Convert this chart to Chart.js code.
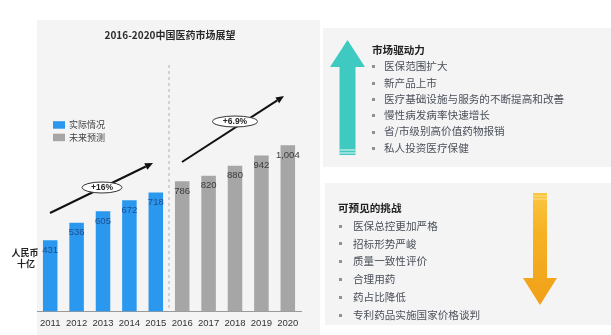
<!DOCTYPE html>
<html>
<head>
<meta charset="utf-8">
<script src="https://cdn.jsdelivr.net/npm/chart.js@4.4.0/dist/chart.umd.min.js"></script>
<style>
html, body { margin: 0; padding: 0; background: #fff; }
#wrap { position: relative; width: 611px; height: 335px; overflow: hidden; }
#chart { position: absolute; left: 0; top: 0; }
.box { position: absolute; font-family: "Noto Sans CJK SC", sans-serif; font-size: 10.6px; color: #4b505a; }
.box h4 { margin: 0; font-size: 10.6px; font-weight: bold; color: #222; }
.box ul { margin: 0; padding: 0; list-style: none; }
.box li { position: relative; white-space: nowrap; }
.box li:before { content: ''; position: absolute; width: 3px; height: 3px; background: #8d929a; top: 50%; margin-top: -1px; }
#drivers { left: 372px; top: 42px; line-height: 16.3px; }
#drivers li { padding-left: 12px; }
#drivers li:before { left: 0px; }
#challenges { left: 338px; top: 199px; line-height: 17.8px; }
#challenges li { padding-left: 15px; }
#challenges li:before { left: 1px; }
</style>
</head>
<body>
<div id="wrap">
  <canvas id="chart" width="611" height="335"></canvas>
  <div class="box" id="drivers">
    <h4>市场驱动力</h4>
    <ul id="driverList"></ul>
  </div>
  <div class="box" id="challenges">
    <h4>可预见的挑战</h4>
    <ul id="challengeList"></ul>
  </div>
</div>
<script>
// chart data
const years = ['2011', '2012', '2013', '2014', '2015', '2016', '2017', '2018', '2019', '2020'];
const actualValues = [431, 536, 605, 672, 718, null, null, null, null, null];
const forecastValues = [null, null, null, null, null, 786, 820, 880, 942, 1004];
const seriesNames = ['实际情况', '未来预测'];
const growthLabels = ['+16%', '+6.9%'];

// side notes
const drivers = ['医保范围扩大', '新产品上市', '医疗基础设施与服务的不断提高和改善', '慢性病发病率快速增长', '省/市级别高价值药物报销', '私人投资医疗保健'];
const challenges = ['医保总控更加严格', '招标形势严峻', '质量一致性评价', '合理用药', '药占比降低', '专利药品实施国家价格谈判'];

const BLUE = '#2a98ee';
const GRAY = '#a6a6a6';
const NUM_FONT = '"Liberation Sans", Arial, sans-serif';
const CJK_FONT = '"Noto Sans CJK SC", sans-serif';

function fillList(id, items) {
    const ul = document.getElementById(id);
    items.forEach(t => {
        const li = document.createElement('li');
        li.textContent = t;
        ul.appendChild(li);
    });
}
fillList('driverList', drivers);
fillList('challengeList', challenges);

function arrowLine(ctx, x1, y1, x2, y2) {
    const a = Math.atan2(y2 - y1, x2 - x1);
    const hl = 8, hw = 3.5;
    ctx.save();
    ctx.strokeStyle = '#111';
    ctx.fillStyle = '#111';
    ctx.lineWidth = 2;
    ctx.beginPath();
    ctx.moveTo(x1, y1);
    ctx.lineTo(x2 - hl * Math.cos(a), y2 - hl * Math.sin(a));
    ctx.stroke();
    ctx.translate(x2, y2);
    ctx.rotate(a);
    ctx.beginPath();
    ctx.moveTo(0, 0);
    ctx.lineTo(-hl, -hw);
    ctx.lineTo(-hl, hw);
    ctx.closePath();
    ctx.fill();
    ctx.restore();
}

function bubble(ctx, cx, cy, rx, ry, text) {
    ctx.save();
    ctx.beginPath();
    ctx.ellipse(cx, cy, rx, ry, 0, 0, Math.PI * 2);
    ctx.fillStyle = '#fff';
    ctx.fill();
    ctx.lineWidth = 1;
    ctx.strokeStyle = '#333';
    ctx.stroke();
    ctx.fillStyle = '#222';
    ctx.font = 'bold 8.5px ' + NUM_FONT;
    ctx.textAlign = 'center';
    ctx.textBaseline = 'middle';
    ctx.fillText(text, cx, cy + 0.5);
    ctx.restore();
}

// backgrounds, dashed divider
const backdrop = {
    id: 'backdrop',
    beforeDraw(chart) {
        const ctx = chart.ctx;
        ctx.save();
        ctx.fillStyle = '#f4f4f4';
        ctx.fillRect(37, 20, 283, 315);
        ctx.fillRect(323, 28, 288, 139);
        ctx.fillRect(325, 183, 286, 142);
        ctx.restore();
    },
    beforeDatasetsDraw(chart) {
        const ctx = chart.ctx;
        const x = chart.scales.x;
        const area = chart.chartArea;
        const xd = (x.getPixelForValue(4) + x.getPixelForValue(5)) / 2;
        ctx.save();
        ctx.strokeStyle = '#b0b0b0';
        ctx.lineWidth = 1;
        ctx.setLineDash([3, 3]);
        ctx.beginPath();
        ctx.moveTo(xd, 65);
        ctx.lineTo(xd, area.bottom);
        ctx.stroke();
        ctx.restore();
    }
};

// labels, legend, trend arrows, side arrows
const decorations = {
    id: 'decorations',
    afterDatasetsDraw(chart) {
        const ctx = chart.ctx;
        ctx.save();
        ctx.font = '9.5px ' + NUM_FONT;
        ctx.textAlign = 'center';
        ctx.textBaseline = 'middle';
        chart.data.datasets.forEach((ds, di) => {
            const meta = chart.getDatasetMeta(di);
            meta.data.forEach((bar, i) => {
                const v = ds.data[i];
                if (v == null) return;
                ctx.fillStyle = di === 0 ? '#1d4f91' : '#3a3a3a';
                ctx.fillText(v.toLocaleString('en-US'), bar.x, bar.y + 10);
            });
        });

        // title
        ctx.fillStyle = '#2b2b2b';
        ctx.font = 'bold 10px ' + CJK_FONT;
        ctx.fillText('2016-2020中国医药市场展望', 170, 35);

        // legend
        ctx.textAlign = 'left';
        ctx.font = '9px ' + CJK_FONT;
        [BLUE, GRAY].forEach((c, i) => {
            const y = 125 + i * 12.5;
            ctx.fillStyle = c;
            ctx.fillRect(53, y - 3.8, 12, 7.5);
            ctx.fillStyle = '#444';
            ctx.fillText(seriesNames[i], 69, y);
        });

        // unit
        ctx.textAlign = 'center';
        ctx.fillStyle = '#222';
        ctx.font = 'bold 9px ' + CJK_FONT;
        ctx.fillText('人民币', 25, 253);
        ctx.fillText('十亿', 26, 264);

        // trend arrows
        arrowLine(ctx, 50, 213, 153, 163);
        bubble(ctx, 102, 187.5, 20, 5.5, growthLabels[0]);
        arrowLine(ctx, 182, 162, 284, 96);
        bubble(ctx, 235, 121.5, 22.5, 5.5, growthLabels[1]);

        // up arrow (drivers)
        ctx.fillStyle = '#3fcac1';
        ctx.beginPath();
        ctx.moveTo(347.5, 40);
        ctx.lineTo(365, 67);
        ctx.lineTo(355.5, 67);
        ctx.lineTo(355.5, 155);
        ctx.lineTo(339.5, 155);
        ctx.lineTo(339.5, 67);
        ctx.lineTo(330, 67);
        ctx.closePath();
        ctx.fill();
        ctx.strokeStyle = '#f4f4f4';
        ctx.lineWidth = 1;
        [150, 153].forEach(y => {
            ctx.beginPath();
            ctx.moveTo(339.5, y);
            ctx.lineTo(355.5, y);
            ctx.stroke();
        });

        // down arrow (challenges)
        const g = ctx.createLinearGradient(0, 193, 0, 305);
        g.addColorStop(0, '#f9c640');
        g.addColorStop(0.35, '#f7b224');
        g.addColorStop(1, '#f0a018');
        ctx.fillStyle = g;
        ctx.beginPath();
        ctx.moveTo(533, 193);
        ctx.lineTo(547, 193);
        ctx.lineTo(547, 278);
        ctx.lineTo(557, 278);
        ctx.lineTo(540, 305);
        ctx.lineTo(523, 278);
        ctx.lineTo(533, 278);
        ctx.closePath();
        ctx.fill();
        ctx.strokeStyle = '#fbe08a';
        [196, 199].forEach(y => {
            ctx.beginPath();
            ctx.moveTo(533, y);
            ctx.lineTo(547, y);
            ctx.stroke();
        });
        ctx.restore();
    }
};

new Chart(document.getElementById('chart'), {
    type: 'bar',
    data: {
        labels: years,
        datasets: [
            { label: seriesNames[0], data: actualValues, backgroundColor: BLUE },
            { label: seriesNames[1], data: forecastValues, backgroundColor: GRAY }
        ]
    },
    options: {
        responsive: false,
        animation: false,
        devicePixelRatio: 1,
        barPercentage: 0.55,
        categoryPercentage: 1,
        layout: { padding: { left: 37, right: 310, top: 63, bottom: 0 } },
        plugins: {
            legend: { display: false },
            tooltip: { enabled: false }
        },
        scales: {
            x: {
                stacked: true,
                grid: { display: false, drawTicks: false },
                border: { display: true, color: '#9a9a9a' },
                ticks: {
                    color: '#333', padding: 6, maxRotation: 0, minRotation: 0, autoSkip: false,
                    font: { size: 9.5, family: NUM_FONT }
                }
            },
            y: {
                stacked: true,
                display: false,
                min: 0,
                max: 1500
            }
        }
    },
    plugins: [backdrop, decorations]
});
</script>
</body>
</html>
